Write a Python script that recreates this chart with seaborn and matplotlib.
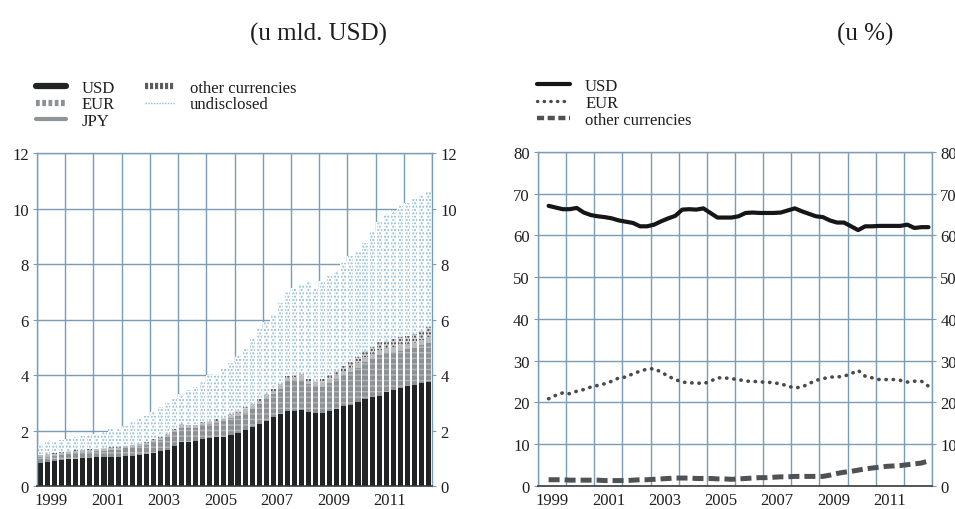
import numpy as np
import pandas as pd
import seaborn as sns
import matplotlib.pyplot as plt
from matplotlib.lines import Line2D


# quarters 1999Q1 .. 2012Q4
years = list(range(1999, 2013))
quarters = [f"{y}Q{k}" for y in years for k in range(1, 5)]
year_labels = [str(y) for y in years if y % 2 == 1]

# left panel, u mld. USD (thousands of bn)
usd = [0.83, 0.88, 0.89, 0.94, 0.97, 0.99, 1.02, 1.02,
       1.03, 1.04, 1.05, 1.05, 1.07, 1.09, 1.11, 1.14,
       1.19, 1.25, 1.31, 1.45, 1.60, 1.60, 1.63, 1.69,
       1.72, 1.75, 1.78, 1.84, 1.90, 2.02, 2.11, 2.23,
       2.35, 2.47, 2.59, 2.71, 2.71, 2.75, 2.65, 2.63,
       2.63, 2.71, 2.77, 2.87, 2.92, 3.04, 3.14, 3.20,
       3.26, 3.40, 3.47, 3.52, 3.59, 3.64, 3.71, 3.74]
eur = [0.20, 0.18, 0.20, 0.19, 0.19, 0.20, 0.20, 0.22,
       0.23, 0.23, 0.25, 0.26, 0.29, 0.30, 0.32, 0.35,
       0.38, 0.41, 0.45, 0.48, 0.50, 0.48, 0.45, 0.51,
       0.52, 0.53, 0.56, 0.62, 0.62, 0.62, 0.65, 0.72,
       0.78, 0.84, 0.90, 1.07, 1.10, 1.08, 1.02, 0.98,
       0.95, 0.99, 1.07, 1.13, 1.18, 1.22, 1.33, 1.38,
       1.47, 1.38, 1.36, 1.35, 1.33, 1.33, 1.36, 1.43]
jpy = [0.07, 0.07, 0.07, 0.07, 0.07, 0.07, 0.07, 0.07,
       0.07, 0.07, 0.07, 0.07, 0.07, 0.07, 0.07, 0.07,
       0.08, 0.08, 0.08, 0.08, 0.08, 0.08, 0.08, 0.08,
       0.08, 0.08, 0.08, 0.08, 0.12, 0.12, 0.12, 0.12,
       0.12, 0.12, 0.12, 0.12, 0.12, 0.12, 0.12, 0.12,
       0.16, 0.16, 0.16, 0.16, 0.16, 0.16, 0.17, 0.17,
       0.18, 0.18, 0.18, 0.19, 0.19, 0.19, 0.20, 0.20]
other = [0.02, 0.02, 0.02, 0.02, 0.02, 0.02, 0.02, 0.02,
         0.02, 0.02, 0.02, 0.02, 0.02, 0.02, 0.02, 0.02,
         0.04, 0.04, 0.04, 0.04, 0.04, 0.04, 0.04, 0.04,
         0.04, 0.04, 0.04, 0.04, 0.07, 0.07, 0.07, 0.07,
         0.07, 0.07, 0.07, 0.07, 0.07, 0.07, 0.07, 0.07,
         0.12, 0.14, 0.16, 0.18, 0.20, 0.22, 0.24, 0.25,
         0.27, 0.28, 0.29, 0.30, 0.31, 0.32, 0.33, 0.35]
undisclosed = [0.39, 0.42, 0.45, 0.44, 0.46, 0.47, 0.50, 0.50,
               0.52, 0.59, 0.66, 0.67, 0.72, 0.81, 0.89, 0.95,
               0.96, 1.05, 1.12, 1.07, 1.10, 1.25, 1.35, 1.43,
               1.64, 1.65, 1.79, 1.87, 1.99, 2.12, 2.35, 2.51,
               2.58, 2.70, 2.92, 3.03, 3.15, 3.23, 3.49, 3.30,
               3.54, 3.55, 3.59, 3.71, 3.84, 3.81, 3.87, 4.20,
               4.32, 4.56, 4.65, 4.74, 4.78, 4.87, 4.90, 4.88]

# right panel, u % (1999Q2 .. 2012Q4)
pct_quarters = quarters[1:]
usd_pct = [67.1, 66.7, 66.3, 66.3, 66.6, 65.5, 64.9, 64.6, 64.4, 64.1,
           63.6, 63.3, 63.0, 62.2, 62.2, 62.6, 63.4, 64.1, 64.7, 66.2,
           66.3, 66.2, 66.5, 65.4, 64.3, 64.3, 64.3, 64.6, 65.4, 65.5,
           65.4, 65.4, 65.4, 65.5, 66.0, 66.5, 65.8, 65.2, 64.6, 64.4,
           63.6, 63.1, 63.1, 62.2, 61.3, 62.2, 62.2, 62.3, 62.3, 62.3,
           62.3, 62.6, 61.8, 62.0, 62.0]
eur_pct = [20.9, 21.7, 22.3, 22.1, 22.7, 23.1, 23.7, 24.1, 24.5, 25.1,
           25.9, 26.1, 26.9, 27.5, 28.0, 28.1, 27.3, 26.3, 25.5, 24.9,
           24.7, 24.7, 24.5, 25.1, 25.9, 25.9, 25.7, 25.5, 25.1, 25.1,
           24.9, 24.9, 24.7, 24.5, 23.9, 23.5, 23.7, 24.5, 25.3, 25.7,
           26.1, 26.1, 26.3, 26.9, 27.7, 26.3, 25.9, 25.5, 25.5, 25.5,
           25.3, 24.9, 25.1, 25.1, 23.9]
other_pct = [1.5, 1.5, 1.5, 1.4, 1.4, 1.4, 1.4, 1.4, 1.3, 1.3,
             1.3, 1.3, 1.4, 1.5, 1.5, 1.6, 1.7, 1.8, 1.9, 1.9,
             1.9, 1.8, 1.8, 1.8, 1.7, 1.7, 1.6, 1.7, 1.8, 1.9,
             2.0, 2.0, 2.1, 2.2, 2.2, 2.3, 2.3, 2.3, 2.3, 2.3,
             2.6, 3.0, 3.3, 3.5, 3.8, 4.1, 4.3, 4.5, 4.7, 4.8,
             4.9, 5.1, 5.3, 5.5, 6.0]

grid_c = "#7a9db5"
text_c = "#1e1e1e"

sns.set_style("white")
plt.rcParams['font.family'] = ['Liberation Serif', 'DejaVu Serif']
plt.rcParams['hatch.linewidth'] = 1.0

fig = plt.figure(figsize=(9.55, 5.1), dpi=100)
ax1 = fig.add_axes([0.0387, 0.0451, 0.4137, 0.6529])
ax2 = fig.add_axes([0.5634, 0.0451, 0.4125, 0.6549])

# stacked bars: draw cumulative heights from the tallest down
df = pd.DataFrame({"q": quarters, "usd": usd, "eur": eur, "jpy": jpy,
                   "other": other, "undisclosed": undisclosed})
df["c_usd"] = df["usd"]
df["c_eur"] = df["c_usd"] + df["eur"]
df["c_jpy"] = df["c_eur"] + df["jpy"]
df["c_oth"] = df["c_jpy"] + df["other"]
df["c_tot"] = df["c_oth"] + df["undisclosed"]

bw = 0.72
# white backing so the grid disappears under the bars
sns.barplot(data=df, x="q", y="c_tot", order=quarters, color="white", saturation=1,
            width=1.0, errorbar=None, linewidth=0, ax=ax1)
layers = [
    ("c_tot", "white", "#8dbbd6", "....."),
    ("c_oth", "#d4d6d8", "#3a3a3a", "....."),
    ("c_jpy", "#b9bdc0", "#b9bdc0", None),
    ("c_eur", "#8c9196", "#b4b8bb", "---"),
    ("c_usd", "#222324", "#222324", None),
]
for col, face, hc, hatch in layers:
    sns.barplot(data=df, x="q", y=col, order=quarters, color=face, saturation=1,
                width=bw, errorbar=None, linewidth=0, edgecolor=hc, hatch=hatch, ax=ax1)

# lines in %
pos = [quarters.index(q) for q in pct_quarters]
sns.lineplot(x=pos, y=usd_pct, color="#161616", lw=3.0, ax=ax2)
sns.lineplot(x=pos, y=eur_pct, color="#4a4a4a", lw=2.6, ls=(0, (0.1, 1.9)),
             dash_capstyle="round", ax=ax2)
sns.lineplot(x=pos, y=other_pct, color="#4f5255", lw=3.6, ls=(0, (2.2, 1.0)), ax=ax2)

bounds = [-0.5 + 4 * i for i in range(len(years) + 1)]
label_pos = [1.5 + 4 * i for i, y in enumerate(years) if y % 2 == 1]

for ax, ymax, step in [(ax1, 12, 2), (ax2, 80, 10)]:
    ax.set_xlim(-0.5, len(quarters) - 0.5)
    ax.set_ylim(0, ymax)
    ax.set_yticks(np.arange(0, ymax + 1, step))
    ax.set_xticks(bounds)
    ax.set_xticklabels([""] * len(bounds))
    ax.set_xticks(label_pos, minor=True)
    ax.set_xticklabels(year_labels, minor=True)
    ax.set_xlabel("")
    ax.set_ylabel("")
    ax.set_axisbelow(True)
    ax.grid(True, which="major", color=grid_c, lw=1.0)
    ax.tick_params(axis="x", which="major", length=4, width=1.2, color="#333333",
                   direction="out")
    ax.tick_params(axis="x", which="minor", length=0, pad=4, labelsize=12,
                   labelcolor=text_c)
    ax.tick_params(axis="y", length=3, color=grid_c, labelsize=12, labelcolor=text_c,
                   left=True, right=True, labelleft=True, labelright=True, pad=3)
    for s in ["left", "right", "top"]:
        ax.spines[s].set_color(grid_c)
        ax.spines[s].set_linewidth(1.0)
    ax.spines["bottom"].set_color("#3a3a3a")
    ax.spines["bottom"].set_linewidth(1.2)

fig.text(0.333, 0.932, "(u mld. USD)", ha="center", va="center", fontsize=18, color=text_c)
fig.text(0.906, 0.932, "(u %)", ha="center", va="center", fontsize=18, color=text_c)

left_handles = [
    Line2D([], [], color="#222324", lw=4.5),
    Line2D([], [], color="#8c9196", lw=4.5, ls=(0, (0.6, 0.4))),
    Line2D([], [], color="#8f9498", lw=3),
    Line2D([], [], color="#5a5d60", lw=4.5, ls=(0, (0.5, 0.3))),
    Line2D([], [], color="#8dbbd6", lw=1.0, ls=(0, (1, 1))),
]
left_labels = ["USD", "EUR", "JPY", "other currencies", "undisclosed"]
fig.legend(left_handles, left_labels, ncol=2, loc="upper left",
           bbox_to_anchor=(0.038, 0.842), frameon=False, fontsize=12,
           handlelength=1.8, handletextpad=0.9, columnspacing=1.8,
           labelspacing=0.05, borderaxespad=0, borderpad=0, labelcolor=text_c)

right_handles = [
    Line2D([], [], color="#161616", lw=3.0),
    Line2D([], [], color="#4a4a4a", lw=2.4, ls=(0, (0.1, 1.9)), dash_capstyle="round"),
    Line2D([], [], color="#4f5255", lw=3.2, ls=(0, (1.6, 0.8))),
]
fig.legend(right_handles, ["USD", "EUR", "other currencies"], loc="upper left",
           bbox_to_anchor=(0.562, 0.845), frameon=False, fontsize=12,
           handlelength=2.0, handletextpad=0.9, labelspacing=0.05,
           borderaxespad=0, borderpad=0, labelcolor=text_c)

fig.savefig("out.png", dpi=100, facecolor="white")
